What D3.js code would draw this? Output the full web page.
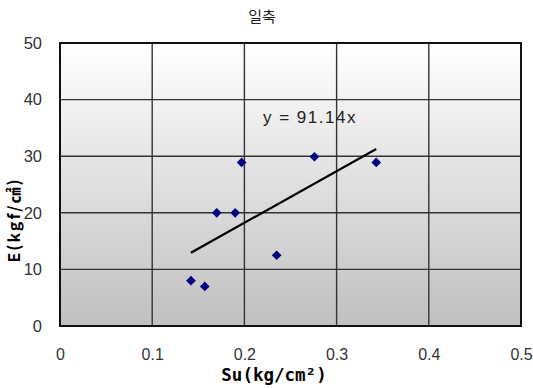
<!DOCTYPE html>
<html><head><meta charset="utf-8">
<script src="https://cdn.jsdelivr.net/npm/d3@7"></script>
<style>body{margin:0;background:#fff}svg{display:block}</style>
</head><body>
<svg id="c" width="533" height="388"></svg>
<script>
const suValues = [0.142, 0.157, 0.170, 0.190, 0.197, 0.235, 0.276, 0.343];
const eValues  = [8, 7, 20, 20, 28.9, 12.5, 29.9, 28.9];
const xTicks = [0, 0.1, 0.2, 0.3, 0.4, 0.5];
const yTicks = [0, 10, 20, 30, 40, 50];
const slope = 91.14;
const titleText = "일축";
const xTitle = "Su(kg/cm²)";
const yTitle = "E(kgf/㎠)";
const eqText = "y = 91.14x";

const svg = d3.select("#c");
const L = 60, R = 521, T = 43, B = 326;
const x = d3.scaleLinear().domain([0, 0.5]).range([L, R]);
const y = d3.scaleLinear().domain([0, 50]).range([B, T]);
const font = "'Liberation Sans', 'Noto Sans CJK KR', sans-serif";

const defs = svg.append("defs");
const g = defs.append("linearGradient").attr("id","bg").attr("x1",0).attr("y1",0).attr("x2",0).attr("y2",1);
g.append("stop").attr("offset","0%").attr("stop-color","#ffffff");
g.append("stop").attr("offset","100%").attr("stop-color","#c0c0c0");

svg.append("rect").attr("x",L).attr("y",T).attr("width",R-L).attr("height",B-T).attr("fill","url(#bg)");

// grid
svg.append("g").selectAll("line").data(xTicks.slice(1,-1)).join("line")
  .attr("x1",d=>x(d)).attr("x2",d=>x(d)).attr("y1",T).attr("y2",B)
  .attr("stroke","#333").attr("stroke-width",1.4);
svg.append("g").selectAll("line").data(yTicks.slice(1,-1)).join("line")
  .attr("y1",d=>y(d)).attr("y2",d=>y(d)).attr("x1",L).attr("x2",R)
  .attr("stroke","#333").attr("stroke-width",1.4);
svg.append("rect").attr("x",L).attr("y",T).attr("width",R-L).attr("height",B-T)
  .attr("fill","none").attr("stroke","#111").attr("stroke-width",2);

// axes labels via d3 axes
const xAxis = svg.append("g").attr("transform",`translate(0,${B})`)
  .call(d3.axisBottom(x).tickValues(xTicks).tickSize(0).tickPadding(23).tickFormat(d=>d===0?"0":d3.format(".1f")(d)));
xAxis.select(".domain").remove();
xAxis.selectAll("text").attr("font-family",font).attr("font-size",16).attr("fill","#333");
const yAxis = svg.append("g").attr("transform",`translate(${L},0)`)
  .call(d3.axisLeft(y).tickValues(yTicks).tickSize(0).tickPadding(18).tickFormat(d3.format("d")));
yAxis.select(".domain").remove();
yAxis.selectAll("text").attr("font-family",font).attr("font-size",16.5).attr("fill","#333");

// trendline
const xmin = d3.min(suValues), xmax = d3.max(suValues);
svg.append("line").attr("x1",x(xmin)).attr("y1",y(slope*xmin)).attr("x2",x(xmax)).attr("y2",y(slope*xmax))
  .attr("stroke","#000").attr("stroke-width",2.2);

// points
svg.append("g").selectAll("path").data(suValues.map((d,i)=>[d,eValues[i]])).join("path")
  .attr("transform",d=>`translate(${x(d[0])},${y(d[1])})`)
  .attr("d",d3.symbol(d3.symbolDiamond2,60)())
  .attr("fill","#000080");

svg.append("text").attr("x",263).attr("y",123).attr("font-family",font).attr("font-size",17)
  .attr("letter-spacing",1.5).attr("fill","#222").text(eqText);

svg.append("text").attr("x",262).attr("y",22).attr("text-anchor","middle").attr("font-family","'Noto Sans CJK KR', sans-serif")
  .attr("font-size",15).attr("fill","#222").text(titleText);

svg.append("text").attr("x",274).attr("y",381).attr("text-anchor","middle").attr("font-family","'DejaVu Sans Mono', monospace")
  .attr("font-size",17.5).attr("font-weight","bold").attr("fill","#000").text(xTitle);

svg.append("text").attr("transform","translate(20,220) rotate(-90)").attr("text-anchor","middle")
  .attr("font-family","'Noto Sans CJK KR', sans-serif").attr("font-size",16).attr("font-weight","bold")
  .attr("letter-spacing",2).attr("fill","#000").text(yTitle);
</script>
</body></html>
